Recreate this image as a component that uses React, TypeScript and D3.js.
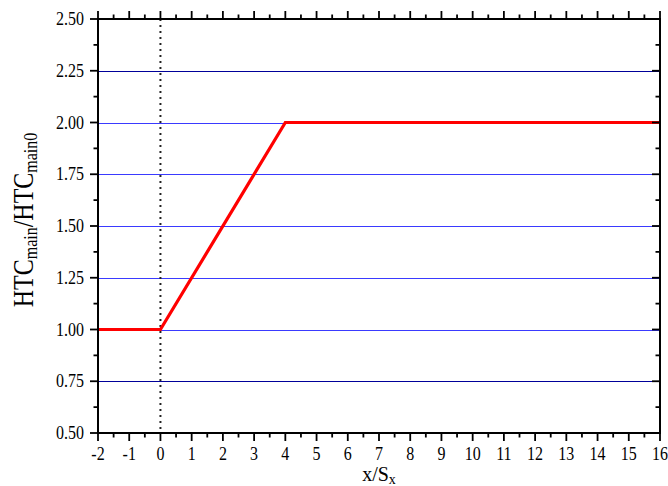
import React from "react";
import * as d3 from "d3";

// chart values
const xTicks = [-2, -1, 0, 1, 2, 3, 4, 5, 6, 7, 8, 9, 10, 11, 12, 13, 14, 15, 16];
const yTicks = [0.5, 0.75, 1.0, 1.25, 1.5, 1.75, 2.0, 2.25, 2.5];
const gridLevels = [0.75, 1.0, 1.25, 1.5, 1.75, 2.0, 2.25];
const ratioX = [-2, 0, 4, 16];
const ratioY = [1.0, 1.0, 2.0, 2.0];
const markerX = 0;

const W = 668;
const H = 486;
const margin = { top: 19, right: 8, bottom: 53, left: 98 };
const FONT = "'Liberation Serif', 'Times New Roman', serif";

const App = () => {
  const x = d3
    .scaleLinear()
    .domain([-2, 16])
    .range([margin.left, W - margin.right]);
  const y = d3
    .scaleLinear()
    .domain([0.5, 2.5])
    .range([H - margin.bottom, margin.top]);

  const x0 = x.range()[0];
  const x1 = x.range()[1];
  const y0 = y.range()[0];
  const y1 = y.range()[1];

  // minor ticks sit halfway between majors
  const xMinor = xTicks.slice(1).map((v, i) => (v + xTicks[i]) / 2);
  const yMinor = yTicks.slice(1).map((v, i) => (v + yTicks[i]) / 2);

  const pts: [number, number][] = ratioX.map((v, i) => [v, ratioY[i]]);
  const redLine = d3
    .line<[number, number]>()
    .x((d) => x(d[0]))
    .y((d) => y(d[1]))
    .curve(d3.curveLinear);

  const major = 8;
  const minor = 4.5;
  const lastGrid = gridLevels.length - 1;

  return (
    <svg
      width={W}
      height={H}
      style={{ position: "absolute", left: 0, top: 0, display: "block", background: "#fff" }}
      fontFamily={FONT}
    >
      {/* grid: outer two look darker in the original */}
      {gridLevels.map((g, i) => (
        <line
          key={"g" + g}
          x1={x0}
          x2={x1}
          y1={Math.round(y(g)) + 0.5}
          y2={Math.round(y(g)) + 0.5}
          stroke={i === 0 || i === lastGrid ? "#000099" : "#3a3aff"}
          strokeWidth={1}
        />
      ))}
      {/* dotted marker at x = 0 */}
      <line
        x1={x(markerX)}
        x2={x(markerX)}
        y1={y1}
        y2={y0}
        stroke="#222"
        strokeWidth={2}
        strokeDasharray="2 4"
      />
      {/* data */}
      <path d={redLine(pts) || ""} fill="none" stroke="#ff0000" strokeWidth={3.2} strokeLinejoin="miter" />

      {/* frame */}
      <rect x={x0} y={y1} width={x1 - x0} height={y0 - y1} fill="none" stroke="#000" strokeWidth={2} />

      {/* ticks: outward on left/bottom/top, inward on right */}
      <g stroke="#000" strokeWidth={1.8}>
        {xTicks.map((t) => (
          <React.Fragment key={"xt" + t}>
            <line x1={x(t)} x2={x(t)} y1={y0} y2={y0 + major} />
            <line x1={x(t)} x2={x(t)} y1={y1} y2={y1 - major} />
          </React.Fragment>
        ))}
        {xMinor.map((t) => (
          <React.Fragment key={"xm" + t}>
            <line x1={x(t)} x2={x(t)} y1={y0} y2={y0 + minor} />
            <line x1={x(t)} x2={x(t)} y1={y1} y2={y1 - minor} />
          </React.Fragment>
        ))}
        {yTicks.map((t) => (
          <React.Fragment key={"yt" + t}>
            <line x1={x0} x2={x0 - major} y1={y(t)} y2={y(t)} />
            <line x1={x1} x2={x1 - major} y1={y(t)} y2={y(t)} />
          </React.Fragment>
        ))}
        {yMinor.map((t) => (
          <React.Fragment key={"ym" + t}>
            <line x1={x0} x2={x0 - minor} y1={y(t)} y2={y(t)} />
            <line x1={x1} x2={x1 - minor} y1={y(t)} y2={y(t)} />
          </React.Fragment>
        ))}
      </g>

      {/* tick labels */}
      {xTicks.map((t) => (
        <text
          key={"xl" + t}
          transform={`translate(${x(t)},${y0 + 27}) scale(1,1.12)`}
          textAnchor="middle"
          fontSize={16}
          fill="#000"
        >
          {d3.format("d")(t).replace("−", "-")}
        </text>
      ))}
      {yTicks.map((t) => (
        <text
          key={"yl" + t}
          transform={`translate(${x0 - 14},${y(t) + 6}) scale(1,1.12)`}
          textAnchor="end"
          fontSize={16}
          fill="#000"
        >
          {d3.format(".2f")(t)}
        </text>
      ))}

      {/* axis titles */}
      <text
        transform={`translate(${(x0 + x1) / 2},${H - 5})`}
        textAnchor="middle"
        fontSize={20}
        fill="#000"
      >
        x/S
        <tspan fontSize={14} dy={3}>x</tspan>
      </text>
      <text
        transform={`translate(33,${(y0 + y1) / 2 - 6}) rotate(-90) scale(1,1.2)`}
        textAnchor="middle"
        fontSize={24}
        fill="#000"
      >
        HTC
        <tspan fontSize={16} dy={3}>main</tspan>
        <tspan dy={-3}>/HTC</tspan>
        <tspan fontSize={16} dy={3}>main0</tspan>
      </text>
    </svg>
  );
};

export default App;
